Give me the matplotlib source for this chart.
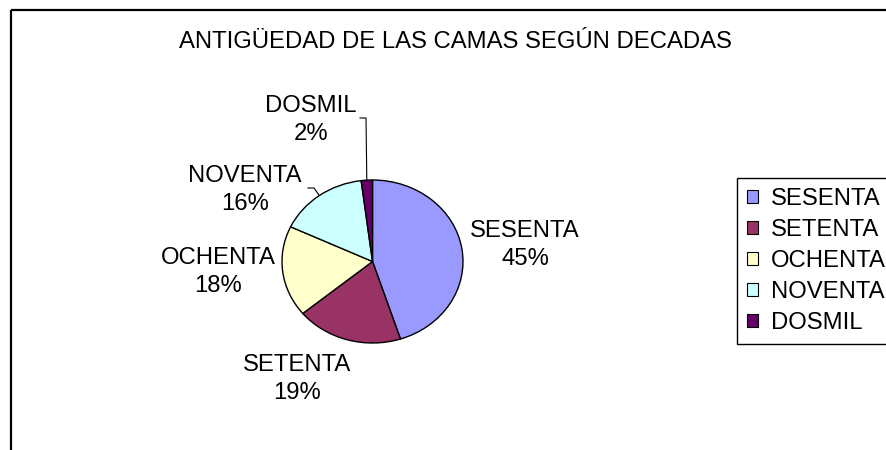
import numpy as np
import matplotlib
matplotlib.use("Agg")
import matplotlib.pyplot as plt
from matplotlib.patches import Rectangle

plt.rcParams['font.family'] = ['Liberation Sans', 'DejaVu Sans']

# data
categories = ['SESENTA', 'SETENTA', 'OCHENTA', 'NOVENTA', 'DOSMIL']
percents = [45, 19, 18, 16, 2]
colors = ['#9999FF', '#993366', '#FFFFCC', '#CCFFFF', '#660066']
title = 'ANTIGÜEDAD DE LAS CAMAS SEGÚN DECADAS'

W, H = 887, 450
FS = 17.2
fig = plt.figure(figsize=(W / 100, H / 100), dpi=100)

# overlay in pixel coords (y down) for border, title, labels, leaders
ov = fig.add_axes([0, 0, 1, 1])
ov.set_xlim(0, W)
ov.set_ylim(H, 0)
ov.axis('off')
ov.add_patch(Rectangle((11, 10), 1000, 1000, fill=False, lw=1.6, ec='black'))
ov.text(455, 42, title, ha='center', va='center', fontsize=FS)

# pie, slightly elliptical like the original
px0, py0, px1, py1 = 282, 180, 463, 343
ax = fig.add_axes([px0 / W, 1 - py1 / H, (px1 - px0) / W, (py1 - py0) / H])
wedges, _ = ax.pie(percents, colors=colors, startangle=90, counterclock=False,
                   wedgeprops=dict(edgecolor='black', linewidth=1.0))
ax.set_aspect('auto')
ax.set_xlim(-1, 1)
ax.set_ylim(-1, 1)
ax.axis('off')

# label centres (pixels)
label_pos = [(525, 245), (297, 379), (218, 272), (245, 190), (311, 120)]
for name, p, (x, y) in zip(categories, percents, label_pos):
    ov.text(x, y, f'{name}\n{p}%', ha='center', va='center', fontsize=FS,
            multialignment='center', linespacing=1.35)

# leader lines for the small slices
to_ov = ax.transData + ov.transData.inverted()
leaders = {3: [(308, 188), (314, 188)], 4: [(360, 118), (366, 118)]}
for i, pts in leaders.items():
    w = wedges[i]
    mid = np.deg2rad((w.theta1 + w.theta2) / 2)
    ex, ey = to_ov.transform((np.cos(mid), np.sin(mid)))
    xs = [p[0] for p in pts] + [ex]
    ys = [p[1] for p in pts] + [ey]
    ov.plot(xs, ys, color='black', lw=0.8)

# legend, cut by the right edge as in the original
handles = [Rectangle((0, 0), 1, 1, fc=c, ec='black', lw=0.8) for c in colors]
fig.legend(handles, categories, loc='upper left',
           bbox_to_anchor=(737 / W, 1 - 178 / H), fontsize=FS,
           frameon=True, fancybox=False, edgecolor='black', framealpha=1,
           handlelength=0.45, handleheight=0.45, handletextpad=0.55,
           labelspacing=0.38, borderpad=0.42, borderaxespad=0)

fig.savefig('out.png', dpi=100)
